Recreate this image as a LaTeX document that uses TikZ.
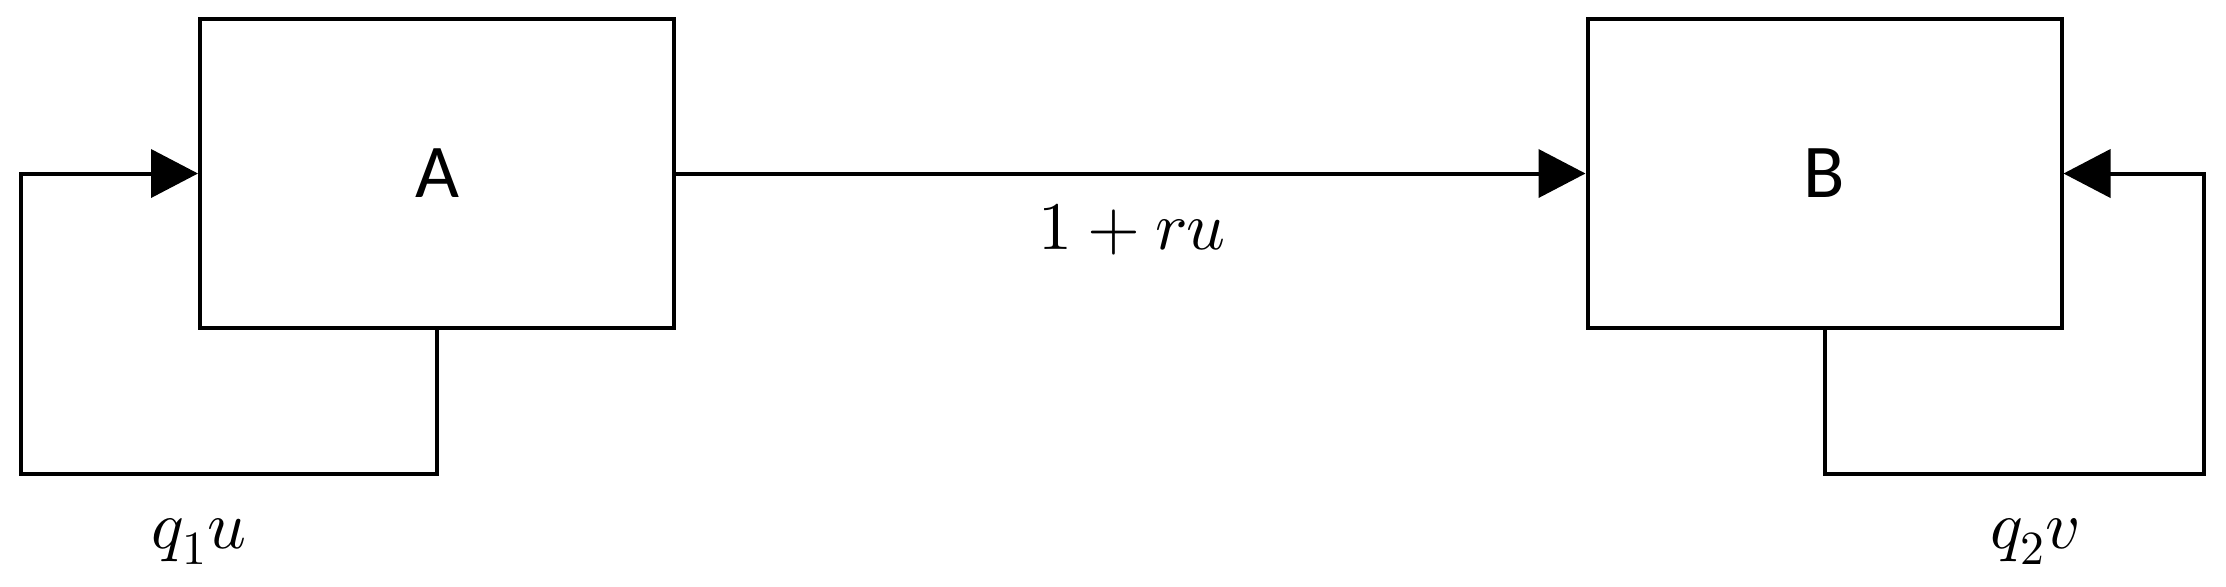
\documentclass[tikz,border=0pt]{standalone}
\usepackage{fontspec}
\usepackage{unicode-math}
\setmathfont{Latin Modern Math}
\newfontfamily\boxfont{Carlito}
\usetikzlibrary{arrows.meta}
\tikzset{
  blk/.style={draw, line width=2pt, rectangle, minimum width=237pt, minimum height=154.5pt,
    inner sep=0pt, font=\boxfont\fontsize{38}{40}\selectfont},
  conn/.style={line width=2pt, miter limit=10},
  arr/.style={conn, -{Triangle[length=23.5pt, width=24pt]}},
  lbl/.style={anchor=base, inner sep=0pt, font=\fontsize{34}{40}\selectfont}
}
\begin{document}
\begin{tikzpicture}[x=0.5pt, y=-0.5pt]
\useasboundingbox (0,0) rectangle (2226,586);
\node[blk] (A) at (437,173.5) {A};
\node[blk] (B) at (1824.5,173.5) {B};
\coordinate (a1) at (21,474);
\coordinate (b1) at (2204,474);
\draw[arr] (A.south) |- (a1) |- (A.west);
\draw[arr] (A.east) -- (B.west);
\draw[arr] (B.south) |- (b1) |- (B.east);
\node[lbl] (l1) at (1132,249) {$1+ru$};
\node[lbl] (l2) at (199,548) {$q_1u$};
\node[lbl] (l3) at (2035,548) {$q_2v$};
\end{tikzpicture}
\end{document}
